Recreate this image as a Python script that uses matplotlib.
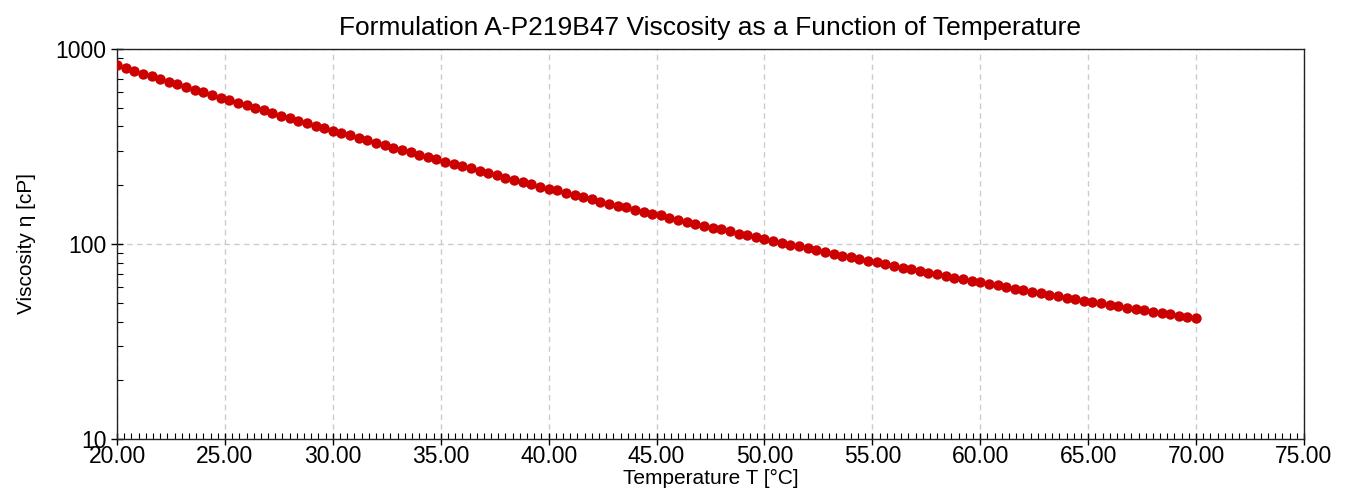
import matplotlib
matplotlib.use('Agg')
import matplotlib.pyplot as plt
from matplotlib import ticker
import numpy as np

# temperature sweep 20 -> 70 degC
temp_start, temp_end = 20.0, 70.0
viscosity = [
    822, 796, 771, 746, 723, 700, 678, 657, 637, 617,
    598, 580, 562, 545, 529, 513, 498, 483, 468, 455,
    441, 428, 416, 404, 392, 381, 370, 360, 349, 340,
    330, 321, 312, 303, 295, 287, 279, 272, 264, 257,
    250, 244, 237, 231, 225, 219, 213, 208, 203, 197,
    192, 188, 183, 178, 174, 170, 165, 161, 157, 154,
    150, 146, 143, 140, 136, 133, 130, 127, 124, 121,
    119, 116, 113, 111, 108, 106, 104, 101, 99.2, 97.1,
    95.0, 93.0, 91.0, 89.1, 87.3, 85.5, 83.7, 82.0, 80.4, 78.8,
    77.2, 75.7, 74.2, 72.7, 71.3, 69.9, 68.6, 67.3, 66.0, 64.8,
    63.6, 62.4, 61.3, 60.1, 59.1, 58.0, 57.0, 56.0, 55.0, 54.0,
    53.1, 52.2, 51.3, 50.4, 49.6, 48.8, 48.0, 47.2, 46.4, 45.7,
    45.0, 44.3, 43.6, 42.9, 42.2, 41.6,
]
temperature = np.linspace(temp_start, temp_end, len(viscosity))

x_ticks = [20, 25, 30, 35, 40, 45, 50, 55, 60, 65, 70, 75]
y_ticks = [10, 100, 1000]

title = 'Formulation A-P219B47 Viscosity as a Function of Temperature'
xlabel = 'Temperature T [°C]'
ylabel = 'Viscosity η [cP]'

plt.rcParams['font.family'] = ['Liberation Sans', 'DejaVu Sans']

fig = plt.figure(figsize=(13.45, 4.88), dpi=100)
ax = fig.add_axes([0.087, 0.10, 0.8825, 0.80])

ax.plot(temperature, viscosity, 'o', color='#cc0000', markersize=7.5,
        markeredgewidth=0, zorder=3)

ax.set_yscale('log')
ax.set_xlim(20, 75)
ax.set_ylim(10, 1000)

ax.set_xticks(x_ticks)
ax.xaxis.set_major_formatter(ticker.FormatStrFormatter('%.2f'))
ax.xaxis.set_minor_locator(ticker.MultipleLocator(5 / 15))
ax.set_yticks(y_ticks)
ax.yaxis.set_major_formatter(ticker.FormatStrFormatter('%d'))
ax.yaxis.set_minor_locator(ticker.LogLocator(base=10, subs=np.arange(2, 10)))
ax.yaxis.set_minor_formatter(ticker.NullFormatter())

ax.tick_params(which='major', direction='inout', length=9, width=1, labelsize=16.5, pad=0)
ax.tick_params(axis='y', which='major', pad=3)
ax.tick_params(which='minor', direction='in', length=4, width=0.8)

ax.grid(which='major', linestyle=(0, (4, 3)), color='#cccccc', linewidth=1)
for s in ax.spines.values():
    s.set_color('#222222')
    s.set_linewidth(1)

ax.set_title(title, fontsize=19, pad=10)
ax.set_xlabel(xlabel, fontsize=15, labelpad=0)
ax.set_ylabel(ylabel, fontsize=15, labelpad=14)

fig.savefig('out.png', dpi=100)
plt.close()
